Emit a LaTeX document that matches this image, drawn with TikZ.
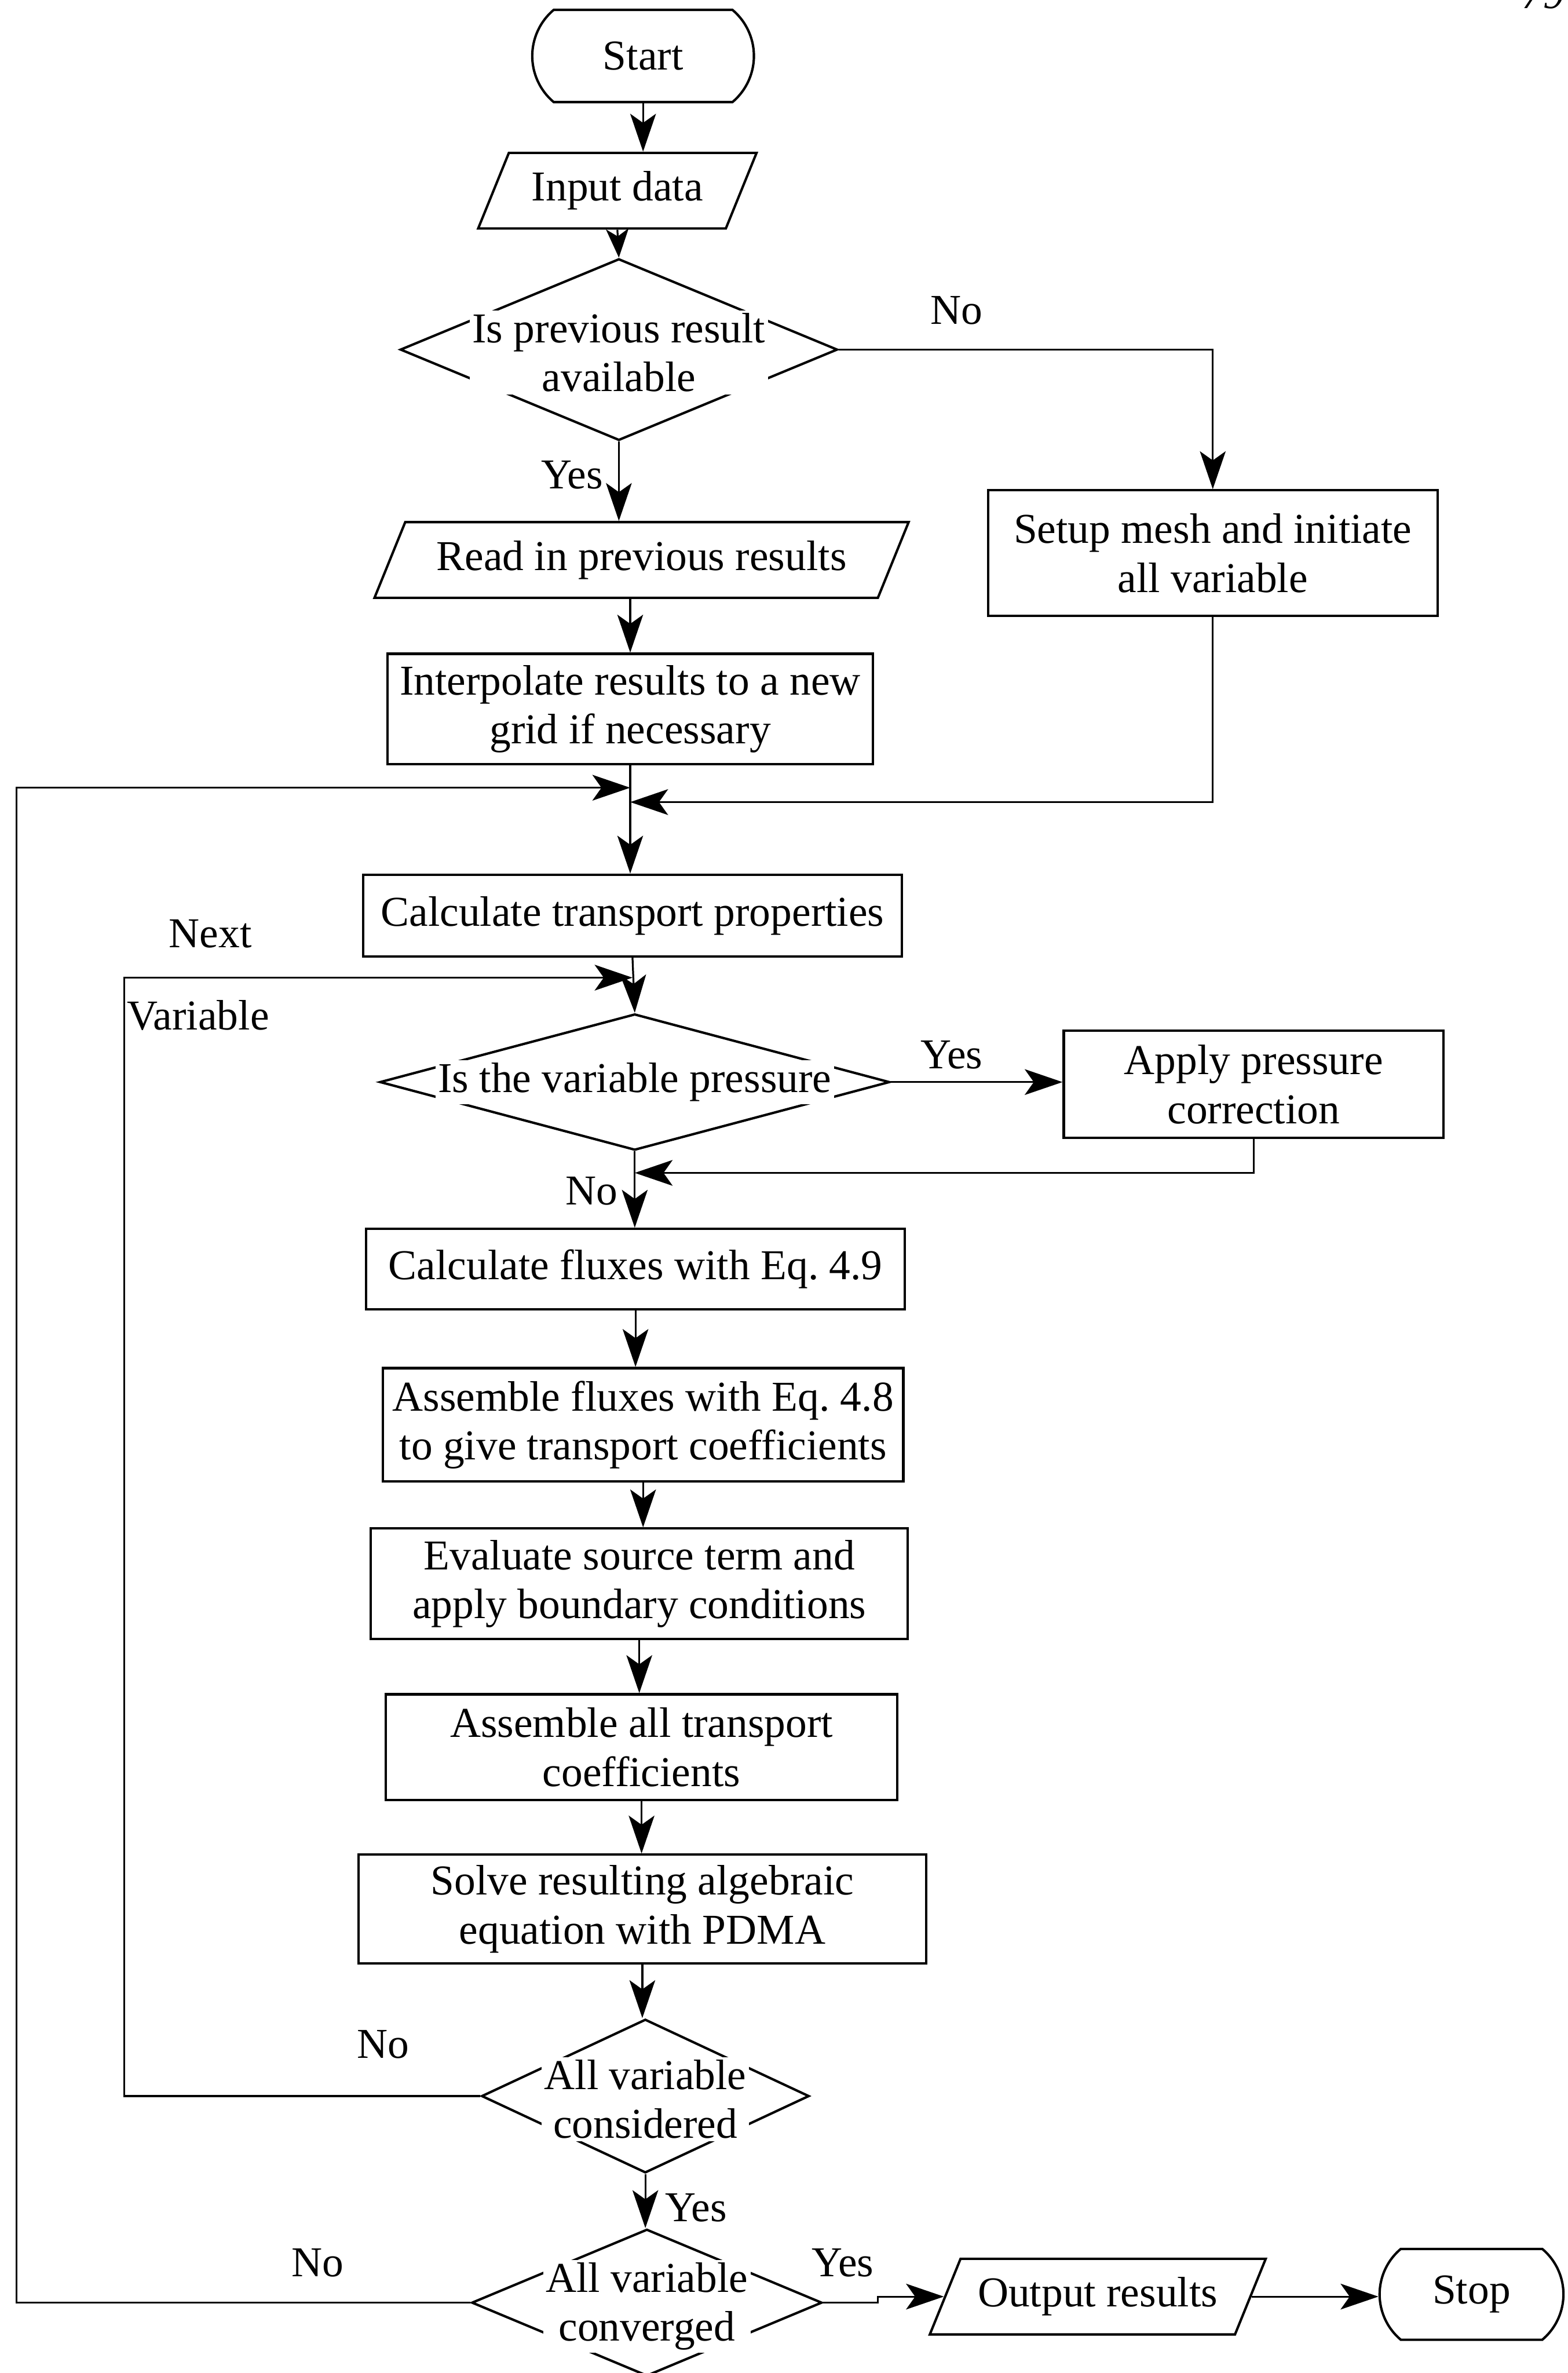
\documentclass[tikz,border=0pt]{standalone}
\usepackage{fontspec}
\setmainfont{Liberation Serif}
\usetikzlibrary{arrows.meta, positioning, calc, shapes.geometric, shapes.misc}

\newcommand{\flowfont}{\fontsize{16}{18.4}\selectfont}

\tikzset{
  box/.style 2 args={draw, line width=0.9pt, minimum width=#1, minimum height=#2,
                     align=center, font=\flowfont, inner sep=1pt},
  term/.style={draw, rounded rectangle, rounded rectangle arc length=100,
               line width=0.9pt, minimum width=#1, minimum height=1.22cm,
               font=\flowfont, inner sep=1pt},
  io/.style={draw, trapezium, trapezium left angle=55, trapezium right angle=125,
             trapezium stretches body, line width=0.9pt, minimum width=#1,
             minimum height=1.0cm, font=\flowfont, inner sep=1pt},
  dia/.style 2 args={draw, diamond, line width=0.9pt, minimum width=#1,
                     minimum height=#2, inner sep=0pt},
  dlab/.style={fill=white, align=center, font=\flowfont, inner sep=1pt},
  lab/.style={font=\flowfont},
  arr/.style={-{Stealth[length=0.5cm, width=0.34cm, inset=0.12cm]}, line width=0.7pt},
}

\begin{document}
\begin{tikzpicture}
  \useasboundingbox (0,0) rectangle (20.72,-31.36);
  \clip (0,0) rectangle (20.72,-31.36);

  % page number, cut off at the top
  \node[font=\flowfont\itshape, anchor=base] (pg) at (20.40,-0.11) {79};

  % --- start and input ---
  \node[term=3.0cm] (start) at (8.50,-0.74) {Start};
  \node[io=3.68cm] (input) at (8.16,-2.52) {Input data};
  \node[dia={5.78cm}{2.4cm}] (dec1) at (8.18,-4.62) {};
  \node[dlab] (dec1t) at (8.18,-4.66) {Is previous result\\available};
  \node[io=7.06cm] (read) at (8.48,-7.40) {Read in previous results};
  \node[box={6.42cm}{1.46cm}] (interp) at (8.33,-9.37) {Interpolate results to a new\\grid if necessary};
  \node[box={5.94cm}{1.66cm}] (setup) at (16.03,-7.31) {Setup mesh and initiate\\all variable};
  \node[box={7.12cm}{1.08cm}] (calc) at (8.36,-12.10) {Calculate transport properties};

  % --- loop over the variables ---
  \node[dia={6.74cm}{1.8cm}] (dec2) at (8.39,-14.30) {};
  \node[dlab] (dec2t) at (8.39,-14.30) {Is the variable pressure};
  \node[box={5.02cm}{1.42cm}] (apply) at (16.57,-14.33) {Apply pressure\\correction};
  \node[box={7.12cm}{1.06cm}] (flux) at (8.40,-16.77) {Calculate fluxes with Eq.\ 4.9};
  \node[box={6.88cm}{1.5cm}] (assf) at (8.50,-18.83) {Assemble fluxes with Eq.\ 4.8\\to give transport coefficients};
  \node[box={7.10cm}{1.46cm}] (evals) at (8.45,-20.93) {Evaluate source term and\\apply boundary conditions};
  \node[box={6.76cm}{1.40cm}] (asall) at (8.48,-23.09) {Assemble all transport\\coefficients};
  \node[box={7.5cm}{1.44cm}] (solve) at (8.49,-25.23) {Solve resulting algebraic\\equation with PDMA};
  \node[dia={4.33cm}{2.03cm}] (dec3) at (8.53,-27.70) {};
  \node[dlab] (dec3t) at (8.53,-27.74) {All variable\\considered};

  % --- convergence and output ---
  \node[dia={4.63cm}{1.94cm}] (dec4) at (8.55,-30.43) {};
  \node[dlab] (dec4t) at (8.55,-30.48) {All variable\\converged};
  \node[io=4.44cm] (out) at (14.51,-30.35) {Output results};
  \node[term=2.5cm, minimum height=1.2cm] (stop) at (19.45,-30.32) {Stop};

  % --- labels ---
  \node[lab] (no1) at (12.64,-4.10) {No};
  \node[lab] (yes1) at (7.56,-6.28) {Yes};
  \node[lab] (next) at (2.78,-12.34) {Next};
  \node[lab] (vari) at (2.62,-13.42) {Variable};
  \node[lab] (yes2) at (12.58,-13.94) {Yes};
  \node[lab] (no2) at (7.82,-15.74) {No};
  \node[lab] (no3) at (5.06,-27.02) {No};
  \node[lab] (yes3) at (9.20,-29.18) {Yes};
  \node[lab] (no4) at (4.20,-29.90) {No};
  \node[lab] (yes4) at (11.14,-29.90) {Yes};

  \coordinate (mL) at (0.22,-10.41);
  \coordinate (mR) at (16.03,-10.60);
  \coordinate (nL) at (1.64,-12.92);
  \coordinate (pR) at (16.57,-15.50);

  % --- connectors ---
  \draw[arr] (start.south) -- (start.south |- input.north);
  \draw[-{Stealth[length=0.38cm, width=0.3cm, inset=0.1cm]}, line width=0.7pt]
    (input.south) -- (dec1.north);
  \draw[arr] (dec1.east) -| (setup.north);
  \draw[arr] (dec1.south) -- (dec1.south |- read.north);
  \draw[arr] (interp.north |- read.south) -- (interp.north);
  \draw[arr] (interp.south) -- (interp.south |- calc.north);
  \draw[arr] (dec4.west) -- (dec4.west -| mL) -- (mL) -- (mL -| interp.south);
  \draw[arr] (setup.south) -- (mR) -- (mR -| interp.south);
  \draw[arr] (calc.south) -- (dec2.north);
  \draw[arr] (dec3.west) -- (dec3.west -| nL) -- (nL) -- (nL -| calc.south);
  \draw[arr] (dec2.east) -- (dec2.east -| apply.west);
  \draw[arr] (apply.south) -- (pR) -- (pR -| dec2.south);
  \draw[arr] (dec2.south) -- (dec2.south |- flux.north);
  \draw[arr] (flux.south) -- (flux.south |- assf.north);
  \draw[arr] (assf.south) -- (assf.south |- evals.north);
  \draw[arr] (evals.south) -- (evals.south |- asall.north);
  \draw[arr] (asall.south) -- (asall.south |- solve.north);
  \draw[arr] (solve.south) -- (solve.south |- dec3.north);
  \draw[arr] (dec3.south) -- (dec3.south |- dec4.north);
  \draw[arr] (dec4.east) -- ++(0.72,0) |- (out.west);
  \draw[arr] (out.east) -- (out.east -| stop.west);
\end{tikzpicture}
\end{document}
